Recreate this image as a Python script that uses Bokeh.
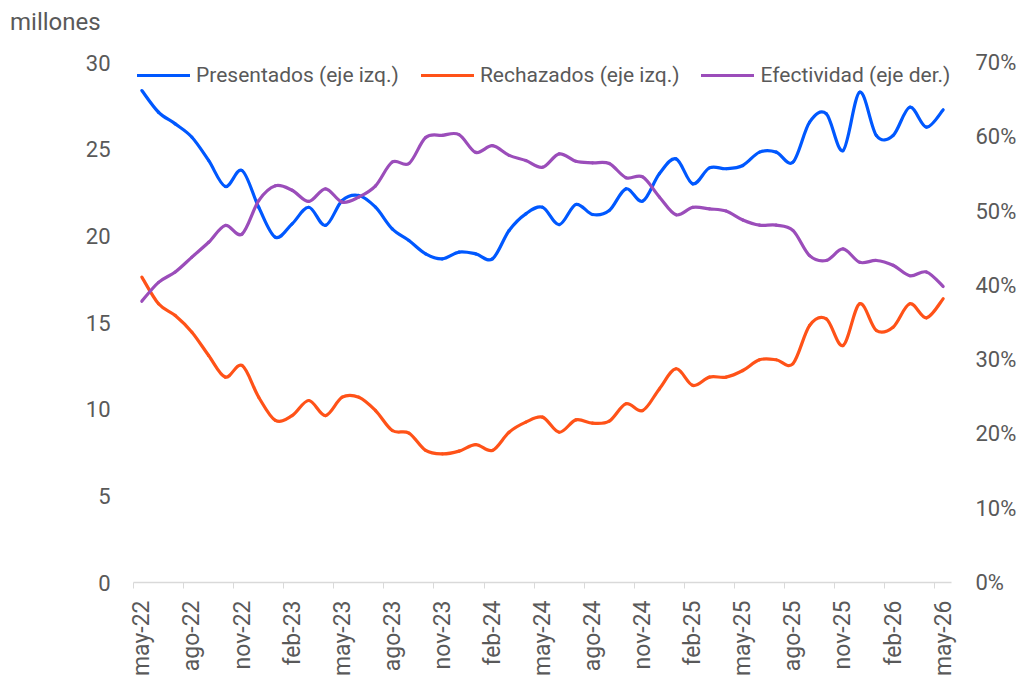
import math
import numpy as np
from bokeh.plotting import figure
from bokeh.layouts import column
from bokeh.models import (Range1d, LinearAxis, FixedTicker, PrintfTickFormatter,
                          Legend, LegendItem, ColumnDataSource, Div)
from bokeh.embed import file_html
from bokeh.resources import INLINE

# ---------------- data ----------------
meses = ["may-22", "jun-22", "jul-22", "ago-22", "sep-22", "oct-22", "nov-22", "dic-22",
         "ene-23", "feb-23", "mar-23", "abr-23", "may-23", "jun-23", "jul-23", "ago-23",
         "sep-23", "oct-23", "nov-23", "dic-23", "ene-24", "feb-24", "mar-24", "abr-24",
         "may-24", "jun-24", "jul-24", "ago-24", "sep-24", "oct-24", "nov-24", "dic-24",
         "ene-25", "feb-25", "mar-25", "abr-25", "may-25", "jun-25", "jul-25", "ago-25",
         "sep-25", "oct-25", "nov-25", "dic-25", "ene-26", "feb-26", "mar-26", "abr-26",
         "may-26"]

presentados = [28.38, 27.13, 26.46, 25.69, 24.35, 22.85, 23.77, 21.65, 19.92, 20.69,
               21.65, 20.60, 22.04, 22.33, 21.65, 20.40, 19.73, 18.96, 18.67, 19.06,
               18.96, 18.67, 20.31, 21.27, 21.65, 20.65, 21.81, 21.23, 21.46, 22.71,
               22.00, 23.58, 24.44, 23.00, 23.92, 23.87, 24.06, 24.83, 24.83, 24.25,
               26.56, 27.04, 24.92, 28.29, 25.79, 25.79, 27.42, 26.27, 27.27]

rechazados = [17.62, 16.08, 15.40, 14.44, 13.10, 11.85, 12.52, 10.69, 9.35, 9.63,
              10.50, 9.63, 10.69, 10.69, 9.92, 8.77, 8.62, 7.62, 7.42, 7.58,
              7.96, 7.62, 8.67, 9.25, 9.54, 8.67, 9.38, 9.19, 9.31, 10.31,
              9.92, 11.17, 12.33, 11.37, 11.85, 11.85, 12.23, 12.85, 12.85, 12.62,
              14.83, 15.21, 13.67, 16.08, 14.54, 14.73, 16.08, 15.27, 16.37]

efectividad = [37.87, 40.4, 41.8, 43.8, 45.8, 48.06, 46.9, 51.4, 53.4, 52.8,
               51.3, 53.0, 51.2, 51.9, 53.4, 56.6, 56.4, 59.9, 60.2, 60.3,
               57.9, 58.8, 57.5, 56.8, 55.9, 57.7, 56.7, 56.5, 56.4, 54.5,
               54.6, 51.9, 49.5, 50.5, 50.3, 50.0, 48.8, 48.1, 48.1, 47.4,
               44.0, 43.35, 44.9, 43.1, 43.35, 42.7, 41.3, 41.8, 39.85]

left_ticks = [0, 5, 10, 15, 20, 25, 30]
right_ticks = [0, 10, 20, 30, 40, 50, 60, 70]

BLUE = "#0058FF"
ORANGE = "#FF5218"
PURPLE = "#9B4DBA"
TEXT = "#595959"
AXIS = "#d9d9d9"
FONT = "Roboto"

n = len(meses)
xs = np.arange(n, dtype=float)


def smooth_source(x, y):
    """Bezier segments through the data points (smoothed line rendering)."""
    x = np.asarray(x, float)
    y = np.asarray(y, float)
    xp = np.concatenate([[x[0]], x, [x[-1]]])
    yp = np.concatenate([[y[0]], y, [y[-1]]])
    m = len(x)
    return ColumnDataSource(dict(
        x0=x[:-1], y0=y[:-1], x1=x[1:], y1=y[1:],
        cx0=x[:-1] + (xp[2:m + 1] - xp[0:m - 1]) / 6.0,
        cy0=y[:-1] + (yp[2:m + 1] - yp[0:m - 1]) / 6.0,
        cx1=x[1:] - (xp[3:m + 2] - xp[1:m]) / 6.0,
        cy1=y[1:] - (yp[3:m + 2] - yp[1:m]) / 6.0,
    ))


HEAD_H = 44
unidad = Div(text="millones", width=200, height=HEAD_H, margin=(0, 0, 0, 10),
             styles={"font-family": FONT, "font-size": "24px", "color": TEXT,
                     "line-height": f"{HEAD_H}px", "white-space": "nowrap"})

p = figure(frame_width=818, frame_height=520,
           x_range=Range1d(-0.5, n - 0.5), y_range=Range1d(0, 30),
           output_backend="svg", toolbar_location=None,
           min_border_left=133, min_border_right=68,
           min_border_top=62 - HEAD_H, min_border_bottom=92)
p.extra_y_ranges = {"pct": Range1d(0, 70)}
p.outline_line_color = None
p.xgrid.visible = False
p.ygrid.visible = False
p.background_fill_color = "white"
p.border_fill_color = "white"

# x axis
xa = p.xaxis[0]
xa.ticker = FixedTicker(ticks=list(range(0, n, 3)),
                        minor_ticks=[i - 0.5 for i in range(0, n, 3)])
xa.major_label_overrides = {i: meses[i] for i in range(0, n, 3)}
xa.major_label_orientation = math.pi / 2
xa.major_tick_out = 0
xa.major_tick_in = 0
xa.minor_tick_out = 6
xa.minor_tick_in = 0
xa.minor_tick_line_color = AXIS
xa.axis_line_color = AXIS
xa.axis_line_width = 1.5
xa.major_label_standoff = 12
xa.major_label_text_font = FONT
xa.major_label_text_font_size = "23px"
xa.major_label_text_color = TEXT

# left axis
ya = p.yaxis[0]
ya.ticker = FixedTicker(ticks=left_ticks)
ya.axis_line_color = None
ya.major_tick_line_color = None
ya.major_tick_out = 0
ya.major_tick_in = 0
ya.minor_tick_line_color = None
ya.major_label_standoff = 23
ya.major_label_text_font = FONT
ya.major_label_text_font_size = "22px"
ya.major_label_text_color = TEXT

# right axis
ra = LinearAxis(y_range_name="pct", ticker=FixedTicker(ticks=right_ticks),
                formatter=PrintfTickFormatter(format="%d%%"))
ra.axis_line_color = None
ra.major_tick_line_color = None
ra.major_tick_out = 0
ra.major_tick_in = 0
ra.minor_tick_line_color = None
ra.major_label_standoff = 24
ra.major_label_text_font = FONT
ra.major_label_text_font_size = "22px"
ra.major_label_text_color = TEXT
p.add_layout(ra, "right")

common = dict(x0="x0", y0="y0", x1="x1", y1="y1", cx0="cx0", cy0="cy0",
              cx1="cx1", cy1="cy1", line_width=3.2, line_cap="round")
r_pres = p.bezier(source=smooth_source(xs, presentados), line_color=BLUE, **common)
r_rech = p.bezier(source=smooth_source(xs, rechazados), line_color=ORANGE, **common)
r_efec = p.bezier(source=smooth_source(xs, efectividad), line_color=PURPLE,
                  y_range_name="pct", **common)

legend = Legend(items=[LegendItem(label="Presentados (eje izq.)", renderers=[r_pres]),
                       LegendItem(label="Rechazados (eje izq.)", renderers=[r_rech]),
                       LegendItem(label="Efectividad (eje der.)", renderers=[r_efec])],
                orientation="horizontal", location=(4, 495),
                padding=0, margin=0, spacing=22,
                glyph_width=53, glyph_height=20, label_height=20, label_standoff=6,
                border_line_color=None, background_fill_alpha=0,
                label_text_font=FONT, label_text_font_size="21px",
                label_text_color=TEXT)
p.add_layout(legend)

layout = column(unidad, p, spacing=0)

open("out.html", "w").write(file_html(layout, INLINE))
